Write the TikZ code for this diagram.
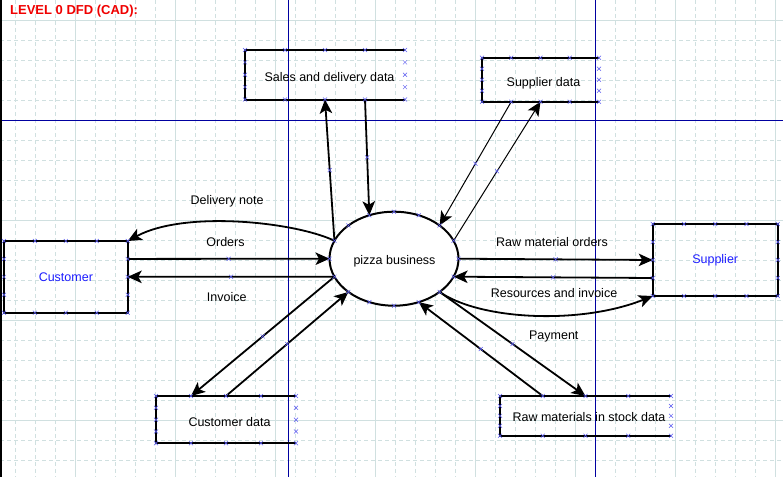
\documentclass[tikz,border=0pt]{standalone}
\usepackage{fontspec}
\setmainfont{Liberation Sans}
\usetikzlibrary{arrows.meta,calc,shapes.geometric}
\definecolor{gridc}{RGB}{208,224,224}
\definecolor{navy}{RGB}{0,0,160}
\definecolor{mkc}{RGB}{90,90,240}
\definecolor{entc}{RGB}{30,30,255}
\definecolor{titc}{RGB}{240,0,0}
\tikzset{
  txt/.style={font=\fontsize{12.5}{14}\selectfont, inner sep=0pt, anchor=base},
  boxshape/.style={inner sep=0pt, outer sep=0pt},
  entity/.style={boxshape, draw, line width=2pt, text=entc, font=\fontsize{12.5}{14}\selectfont},
  edgeline/.style={line width=2pt, black},
  flow/.style={line width=1.8pt, -{Stealth[length=14pt,width=12.5pt,inset=3.5pt]}},
  thinflow/.style={flow, line width=1pt},
  xmk/.style={draw=mkc, line width=0.5pt},
  xm/.pic={\draw[xmk] (-2,-2)--(2,2) (-2,2)--(2,-2);},
  griddash/.style={gridc, line width=1pt, dash pattern=on 4pt off 3pt},
  gridsolid/.style={gridc, line width=1pt}
}
\newcommand{\boxmarks}[1]{%
  \foreach \f in {0,0.25,0.5,0.75,1}{%
    \pic at ($(#1.north west)!\f!(#1.north east)$) {xm};
    \pic at ($(#1.south west)!\f!(#1.south east)$) {xm};}
  \foreach \f in {0.25,0.5,0.75}{%
    \pic at ($(#1.north west)!\f!(#1.south west)$) {xm};
    \pic at ($(#1.north east)!\f!(#1.south east)$) {xm};}}
\newcommand{\storeedges}[1]{%
  \draw[edgeline] (#1.north east) -- (#1.north west) -- (#1.south west) -- (#1.south east);}
\begin{document}
\begin{tikzpicture}[x=1pt,y=-1pt]
\useasboundingbox (0,0) rectangle (783,477);
\fill[white] (0,0) rectangle (783,477);
% grid
\foreach \x in {15,35,...,775} {\draw[griddash] (\x,0) -- (\x,477);}
\foreach \y in {40,60,...,460} {\draw[griddash] (0,\y) -- (783,\y);}
\foreach \x in {75,175,...,775} {\draw[gridsolid] (\x,0) -- (\x,477);}
\foreach \y in {20,220,320,420} {\draw[gridsolid] (0,\y) -- (783,\y);}
% blue guide lines
\draw[navy, line width=1pt] (288,0) -- (288,477);
\draw[navy, line width=1pt] (595,0) -- (595,477);
\draw[navy, line width=1pt] (0,120) -- (783,120);
% left bar
\fill[black] (0,0) rectangle (2,477);
% title
\node[anchor=base west, inner sep=0pt, font=\bfseries\fontsize{13}{15}\selectfont, text=titc] (title) at (10,14) {LEVEL 0 DFD (CAD):};

% process
\node[ellipse, draw, line width=2pt, fill=white, minimum width=129pt, minimum height=94pt, inner sep=0pt] (pb) at (394,258.7) {};
\node[txt] (pbt) at (394.5,264) {pizza business};
\foreach \n/\a in {e0/0, e22/-22.5, e45/-45, e112/-112.5, e157/-157.5, e180/180, e202/157.5, e225/135, e292/67.5, e315/45, e337/22.5}
  {\coordinate (\n) at ([shift={(\a:64.5 and 47)}]pb.center);}

% entities
\node[entity, minimum width=123.7pt, minimum height=71.7pt] (cust) at (65.85,276.85) {Customer};
\node[entity, minimum width=125pt, minimum height=72pt] (sup) at (715.2,260) {Supplier};

% data stores
\node[boxshape, minimum width=160pt, minimum height=49.5pt] (sales) at (325,74.75) {};
\storeedges{sales}
\node[txt] (salest) at (329.5,81.7) {Sales and delivery data};
\node[boxshape, minimum width=117pt, minimum height=44pt] (supd) at (540.5,79.7) {};
\storeedges{supd}
\node[txt] (supdt) at (543.5,86) {Supplier data};
\node[boxshape, minimum width=140pt, minimum height=47.3pt] (custd) at (226,419.65) {};
\storeedges{custd}
\node[txt] (custdt) at (229.5,426) {Customer data};
\node[boxshape, minimum width=171pt, minimum height=39.7pt] (raw) at (585.5,415.85) {};
\storeedges{raw}
\node[txt] (rawt) at (589,421.7) {Raw materials in stock data};

% connector end points on boxes
\coordinate (sb1) at ($(sales.south west)!0.75!(sales.south east)$);
\coordinate (sdb1) at ($(supd.south west)!0.25!(supd.south east)$);
\coordinate (cu1) at ($(cust.north east)!0.25!(cust.south east)$);
\coordinate (su1) at ($(sup.north west)!0.75!(sup.south west)$);
\coordinate (rw1) at ($(raw.north west)!0.25!(raw.north east)$);
\coordinate (cd1) at ($(custd.north west)!0.25!(custd.north east)$);

% flows
\draw[flow] (e157) -- (sales.south);
\draw[flow] (sb1) -- (e112);
\draw[thinflow] (sdb1) -- (e45);
\draw[thinflow] (e22) -- (supd.south);
\draw[flow] (e157) .. controls (295,222) and (185,210) .. (cust.north east);
\draw[flow] (cu1) -- (e180);
\draw[flow] (e202) -- (cust.east);
\draw[flow] (e0) -- (sup.west);
\draw[flow] (su1) -- (e337);
\draw[flow] (e315) .. controls (480,320) and (580,325) .. (sup.south west);
\draw[flow] (e315) -- (raw.north);
\draw[flow] (rw1) -- (e292);
\draw[flow] (e202) -- (cd1);
\draw[flow] (custd.north) -- (e225);

% labels
\node[txt] (ldn) at (227,204.3) {Delivery note};
\node[txt] (lord) at (225.5,246.7) {Orders};
\node[txt] (linv) at (226.7,301) {Invoice};
\node[txt] (lrmo) at (552,246) {Raw material orders};
\node[txt] (lres) at (554,297.7) {Resources and invoice};
\node[txt] (lpay) at (553.8,339) {Payment};

% markers
\boxmarks{cust}
\boxmarks{sup}
\boxmarks{sales}
\boxmarks{supd}
\boxmarks{custd}
\boxmarks{raw}
\foreach \a in {0,22.5,...,337.5} {\pic at ([shift={(\a:64.5 and 47)}]pb.center) {xm};}
\foreach \p/\q in {e157/sales.south, sb1/e112, sdb1/e45, e22/supd.south, cu1/e180, e202/cust.east, e0/sup.west, su1/e337, e315/raw.north, rw1/e292, e202/cd1, custd.north/e225}
  {\pic at ($(\p)!0.5!(\q)$) {xm};}
\end{tikzpicture}
\end{document}
